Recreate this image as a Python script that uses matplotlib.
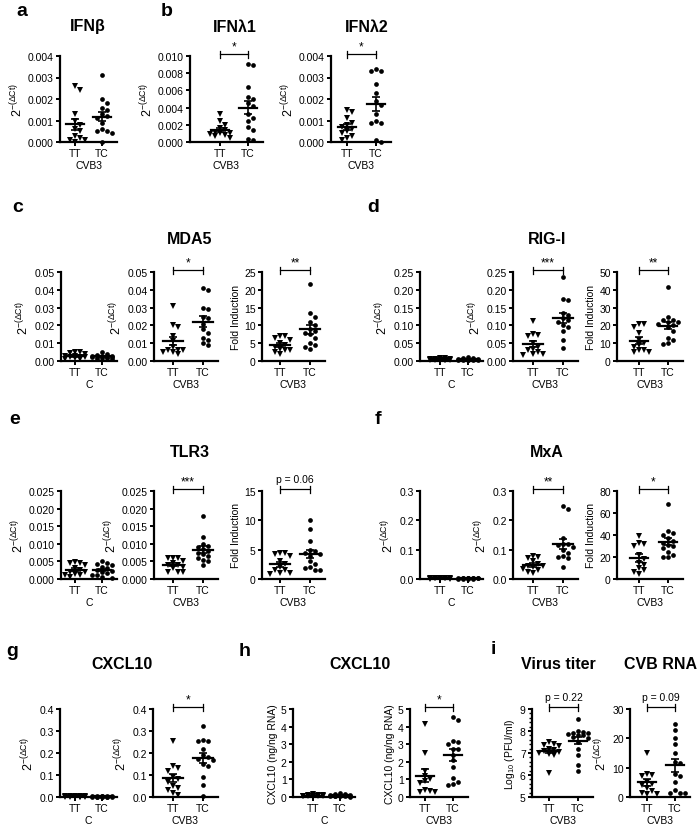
import numpy as np
import matplotlib
matplotlib.use("Agg")
import matplotlib.pyplot as plt
from matplotlib.transforms import blended_transform_factory
from matplotlib.ticker import FormatStrFormatter, MultipleLocator

plt.rcParams['font.family'] = ['Liberation Sans', 'DejaVu Sans']
plt.rcParams['mathtext.default'] = 'regular'

# ---- data ----
groups = ['TT', 'TC']

ifnb_tt = [0.0026, 0.0024, 0.0013, 0.0010, 0.0008, 0.0006, 0.0005, 0.0003, 0.0002, 0.0001, 0.0001, 0.0000]
ifnb_tc = [0.0031, 0.0020, 0.0018, 0.0016, 0.0015, 0.0013, 0.0012, 0.0011, 0.0009, 0.0006, 0.0005, 0.0005, 0.0004, 0.0000]

ifnl1_tt = [0.0032, 0.0025, 0.0020, 0.0016, 0.0014, 0.0012, 0.0011, 0.0010, 0.0009, 0.0008, 0.0007, 0.0005]
ifnl1_tc = [0.0091, 0.0089, 0.0064, 0.0052, 0.0050, 0.0045, 0.0042, 0.0033, 0.0028, 0.0024, 0.0018, 0.0014, 0.0004, 0.0002]

ifnl2_tt = [0.0015, 0.0014, 0.0011, 0.0009, 0.0008, 0.0007, 0.0006, 0.0005, 0.0004, 0.0003, 0.0002, 0.0001]
ifnl2_tc = [0.0034, 0.0033, 0.0033, 0.0027, 0.0023, 0.0019, 0.0017, 0.0013, 0.0010, 0.0009, 0.0009, 0.0001, 0.0000]

mda5_c_tt = [0.0050, 0.0048, 0.0045, 0.0040, 0.0030, 0.0030, 0.0025, 0.0020, 0.0020, 0.0015, 0.0010, 0.0010]
mda5_c_tc = [0.0052, 0.0040, 0.0035, 0.0030, 0.0030, 0.0028, 0.0025, 0.0022, 0.0020, 0.0020, 0.0018, 0.0015, 0.0012, 0.0010]
mda5_v_tt = [0.031, 0.020, 0.019, 0.014, 0.011, 0.008, 0.006, 0.006, 0.005, 0.005, 0.004, 0.006]
mda5_v_tc = [0.041, 0.040, 0.030, 0.029, 0.025, 0.024, 0.021, 0.018, 0.016, 0.013, 0.012, 0.010, 0.009]
mda5_f_tt = [7.0, 7.0, 6.5, 6.0, 5.0, 4.5, 4.0, 3.5, 3.0, 3.0, 2.5, 2.0]
mda5_f_tc = [21.5, 13.5, 12.5, 11.0, 10.0, 9.0, 8.5, 8.0, 7.5, 6.5, 5.0, 4.5, 4.0, 3.5]

rig_c_tt = [0.009, 0.008, 0.007, 0.006, 0.005, 0.005, 0.004, 0.004, 0.003, 0.003, 0.002, 0.002]
rig_c_tc = [0.010, 0.009, 0.008, 0.007, 0.006, 0.006, 0.005, 0.005, 0.004, 0.004, 0.003, 0.003, 0.002, 0.002]
rig_v_tt = [0.112, 0.075, 0.072, 0.070, 0.050, 0.040, 0.035, 0.030, 0.025, 0.020, 0.020, 0.018]
rig_v_tc = [0.237, 0.173, 0.172, 0.135, 0.130, 0.120, 0.115, 0.110, 0.100, 0.095, 0.085, 0.060, 0.037]
rig_f_tt = [21, 21, 19, 16, 12, 10, 9, 8, 6, 6, 5, 5]
rig_f_tc = [41.5, 25, 23, 23, 22, 22, 21, 20, 19, 17, 13, 12, 10, 9.5]

tlr3_c_tt = [0.0047, 0.0046, 0.0045, 0.0040, 0.0030, 0.0025, 0.0020, 0.0020, 0.0015, 0.0012, 0.0010, 0.0006]
tlr3_c_tc = [0.0050, 0.0045, 0.0042, 0.0040, 0.0035, 0.0030, 0.0026, 0.0022, 0.0020, 0.0016, 0.0012, 0.0010, 0.0006, 0.0003]
tlr3_v_tt = [0.006, 0.006, 0.006, 0.005, 0.0045, 0.004, 0.004, 0.0035, 0.003, 0.002, 0.002, 0.002]
tlr3_v_tc = [0.018, 0.012, 0.010, 0.0095, 0.009, 0.0085, 0.008, 0.0075, 0.007, 0.0065, 0.006, 0.0055, 0.005, 0.004]
tlr3_f_tt = [4.5, 4.5, 4.3, 4.0, 3.0, 2.5, 2.0, 1.5, 1.5, 1.0, 1.0, 0.8]
tlr3_f_tc = [10.0, 8.5, 6.5, 5.0, 4.8, 4.5, 4.3, 4.0, 3.0, 2.5, 2.0, 1.8, 1.6, 1.5]

mxa_c_tt = [0.005, 0.004, 0.004, 0.003, 0.003, 0.003, 0.002, 0.002, 0.002, 0.001, 0.001, 0.001]
mxa_c_tc = [0.005, 0.005, 0.004, 0.004, 0.003, 0.003, 0.003, 0.002, 0.002, 0.002, 0.001, 0.001, 0.001, 0.001]
mxa_v_tt = [0.078, 0.075, 0.070, 0.060, 0.050, 0.045, 0.045, 0.040, 0.035, 0.030, 0.025, 0.020]
mxa_v_tc = [0.248, 0.240, 0.140, 0.120, 0.120, 0.115, 0.110, 0.100, 0.090, 0.080, 0.075, 0.070, 0.040]
mxa_f_tt = [39, 33, 32, 30, 22, 18, 15, 13, 10, 8, 6, 5]
mxa_f_tc = [68, 44, 42, 40, 37, 35, 33, 31, 30, 28, 25, 22, 20, 20]

cxcl_c_tt = [0.004, 0.004, 0.003, 0.003, 0.003, 0.002, 0.002, 0.002, 0.002, 0.001, 0.001, 0.001]
cxcl_c_tc = [0.004, 0.004, 0.003, 0.003, 0.003, 0.003, 0.002, 0.002, 0.002, 0.002, 0.001, 0.001, 0.001, 0.001]
cxcl_v_tt = [0.255, 0.140, 0.130, 0.120, 0.090, 0.080, 0.070, 0.050, 0.040, 0.030, 0.020, 0.010]
cxcl_v_tc = [0.325, 0.260, 0.255, 0.255, 0.220, 0.190, 0.180, 0.175, 0.170, 0.150, 0.140, 0.090, 0.055, 0.005]

prot_c_tt = [0.15, 0.12, 0.10, 0.09, 0.08, 0.07, 0.06, 0.05, 0.05, 0.04, 0.03]
prot_c_tc = [0.22, 0.18, 0.15, 0.12, 0.10, 0.10, 0.09, 0.08, 0.07, 0.06, 0.05, 0.04, 0.03, 0.02]
prot_v_tt = [4.15, 2.5, 1.5, 1.2, 1.0, 0.9, 0.8, 0.4, 0.35, 0.3, 0.3]
prot_v_tc = [4.55, 4.4, 3.2, 3.15, 3.0, 2.75, 2.7, 2.4, 2.1, 1.7, 1.1, 0.85, 0.75, 0.7]

titer_tt = [7.5, 7.4, 7.35, 7.3, 7.2, 7.15, 7.1, 7.05, 7.0, 6.95, 6.9, 6.1]
titer_tc = [8.55, 8.0, 7.95, 7.9, 7.9, 7.85, 7.8, 7.8, 7.75, 7.7, 7.5, 7.2, 6.9, 6.45, 6.2]

rna_tt = [15, 8, 7.5, 7, 5, 4.5, 4, 3, 2, 1.5, 1, 1]
rna_tc = [25, 23, 20, 18, 15, 12, 11.5, 8, 7, 5, 2.5, 1.5, 1.5, 1.5]

W, H = 700, 829
fig = plt.figure(figsize=(7, 8.29), dpi=100)
DCT = '2$^{-(\\Delta Ct)}$'


def swarm(ax, vals, dmark=4.8, maxw=0.42):
    # simple beeswarm offsets in category units
    bb = ax.get_window_extent()
    x0, x1 = ax.get_xlim()
    y0, y1 = ax.get_ylim()
    pxx = bb.width / (x1 - x0)
    pxy = bb.height / (y1 - y0)
    placed = []
    offs = np.zeros(len(vals))
    order = np.argsort(vals)[::-1]
    step = dmark / pxx
    cands = [0.0]
    k = 1
    while k * step <= maxw:
        cands += [k * step, -k * step]
        k += 1
    for i in order:
        yv = vals[i] * pxy
        best, bestd = None, -1
        for c in cands:
            dmin = min([np.hypot((c - px) * pxx, yv - py) for px, py in placed] + [99])
            if dmin >= dmark:
                best = c
                break
            if dmin > bestd:
                bestd, best = dmin, c
        offs[i] = best
        placed.append((best, yv))
    return offs


def dot_panel(xs, ys, tt, tc, ylim, step, fmt, ylabel, xlabel, sig=None, minor=None):
    yaxis, ttx, tcx = xs
    top, bot = ys
    endx = tcx + 15
    sp = tcx - ttx
    ax = fig.add_axes([yaxis / W, 1 - bot / H, (endx - yaxis) / W, (bot - top) / H])
    ax.set_xlim(-(ttx - yaxis) / sp, 1 + (endx - tcx) / sp)
    ax.set_ylim(*ylim)
    ax.set_yticks(np.arange(ylim[0], ylim[1] + step / 2, step))
    ax.yaxis.set_major_formatter(FormatStrFormatter(fmt))
    if minor:
        ax.yaxis.set_minor_locator(MultipleLocator(minor))
    ax.set_xticks([0, 1])
    ax.set_xticklabels(groups)
    for s in ['top', 'right']:
        ax.spines[s].set_visible(False)
    for s in ['left', 'bottom']:
        ax.spines[s].set_linewidth(1.6)
    ax.tick_params(width=1.4, length=3, labelsize=7.5, pad=1.5)
    ax.tick_params(which='minor', width=1.0, length=2)
    ax.set_ylabel(ylabel, fontsize=9 if ylabel == DCT else 7.5, labelpad=2)
    ax.set_xlabel(xlabel, fontsize=7.5, labelpad=1)

    for i, (vals, mk, ms) in enumerate([(tt, 'v', 3.8), (tc, 'o', 3.4)]):
        vals = np.asarray(vals, float)
        offs = swarm(ax, vals)
        ax.plot(i + offs, vals, mk, color='black', ms=ms, mew=0, clip_on=False, zorder=3)
        m = vals.mean()
        se = vals.std(ddof=1) / np.sqrt(len(vals))
        ax.plot([i - 0.32, i + 0.32], [m, m], color='black', lw=1.6, zorder=4)
        ax.errorbar(i, m, yerr=se, color='black', lw=1.2, capsize=3, capthick=1.2, zorder=4)

    if sig:
        tr = blended_transform_factory(ax.transData, ax.transAxes)
        yb = 1.02
        ax.plot([0, 1], [yb, yb], color='black', lw=0.9, transform=tr, clip_on=False)
        for xb in (0, 1):
            ax.plot([xb, xb], [yb - 0.04, yb + 0.04], color='black', lw=0.9, transform=tr, clip_on=False)
        if sig.startswith('*'):
            ax.text(0.5, yb + 0.02, sig, transform=tr, ha='center', va='bottom', fontsize=8.5)
        else:
            ax.text(0.5, yb + 0.06, sig, transform=tr, ha='center', va='bottom', fontsize=7.5)
    return ax


def title(x, y, s):
    fig.text(x / W, 1 - y / H, s, ha='center', va='center', fontsize=11.5, fontweight='bold')


def letter(x, y, s):
    fig.text(x / W, 1 - y / H, s, ha='center', va='center', fontsize=14, fontweight='bold')


# ---- row a / b ----
letter(22, 12, 'a')
title(88, 27, 'IFNβ')
dot_panel((60, 75, 102), (57, 143), ifnb_tt, ifnb_tc, (0, 0.004), 0.001, '%.3f', DCT, 'CVB3')
letter(167, 12, 'b')
title(235, 27, 'IFNλ1')
dot_panel((190, 220, 248), (57, 143), ifnl1_tt, ifnl1_tc, (0, 0.010), 0.002, '%.3f', DCT, 'CVB3', '*')
title(367, 27, 'IFNλ2')
dot_panel((331, 347, 376), (57, 143), ifnl2_tt, ifnl2_tc, (0, 0.004), 0.001, '%.3f', DCT, 'CVB3', '*')

# ---- rows c-f ----
left_x = [(61, 75, 102), (154, 173, 203), (262, 280, 310)]
right_x = [(420, 440, 468), (513, 533, 563), (617, 639, 668)]

letter(18, 207, 'c')
title(190, 240, 'MDA5')
dot_panel(left_x[0], (273, 362), mda5_c_tt, mda5_c_tc, (0, 0.05), 0.01, '%.2f', DCT, 'C')
dot_panel(left_x[1], (273, 362), mda5_v_tt, mda5_v_tc, (0, 0.05), 0.01, '%.2f', DCT, 'CVB3', '*')
dot_panel(left_x[2], (273, 362), mda5_f_tt, mda5_f_tc, (0, 25), 5, '%d', 'Fold Induction', 'CVB3', '**')

letter(373, 207, 'd')
title(547, 240, 'RIG-I')
dot_panel(right_x[0], (273, 362), rig_c_tt, rig_c_tc, (0, 0.25), 0.05, '%.2f', DCT, 'C')
dot_panel(right_x[1], (273, 362), rig_v_tt, rig_v_tc, (0, 0.25), 0.05, '%.2f', DCT, 'CVB3', '***')
dot_panel(right_x[2], (273, 362), rig_f_tt, rig_f_tc, (0, 50), 10, '%d', 'Fold Induction', 'CVB3', '**')

letter(15, 420, 'e')
title(190, 453, 'TLR3')
dot_panel(left_x[0], (492, 580), tlr3_c_tt, tlr3_c_tc, (0, 0.025), 0.005, '%.3f', DCT, 'C')
dot_panel(left_x[1], (492, 580), tlr3_v_tt, tlr3_v_tc, (0, 0.025), 0.005, '%.3f', DCT, 'CVB3', '***')
dot_panel(left_x[2], (492, 580), tlr3_f_tt, tlr3_f_tc, (0, 15), 5, '%d', 'Fold Induction', 'CVB3', 'p = 0.06')

letter(378, 420, 'f')
title(547, 453, 'MxA')
dot_panel(right_x[0], (492, 580), mxa_c_tt, mxa_c_tc, (0, 0.3), 0.1, '%.1f', DCT, 'C')
dot_panel(right_x[1], (492, 580), mxa_v_tt, mxa_v_tc, (0, 0.3), 0.1, '%.1f', DCT, 'CVB3', '**')
dot_panel(right_x[2], (492, 580), mxa_f_tt, mxa_f_tc, (0, 80), 20, '%d', 'Fold Induction', 'CVB3', '*')

# ---- row g / h / i ----
letter(12, 652, 'g')
title(122, 665, 'CXCL10')
dot_panel((60, 75, 102), (710, 798), cxcl_c_tt, cxcl_c_tc, (0, 0.4), 0.1, '%.1f', DCT, 'C')
dot_panel((153, 173, 203), (710, 798), cxcl_v_tt, cxcl_v_tc, (0, 0.4), 0.1, '%.1f', DCT, 'CVB3', '*')

letter(245, 652, 'h')
title(360, 665, 'CXCL10')
dot_panel((293, 313, 340), (710, 798), prot_c_tt, prot_c_tc, (0, 5), 1, '%d', 'CXCL10 (ng/ng RNA)', 'C')
dot_panel((410, 425, 453), (710, 798), prot_v_tt, prot_v_tc, (0, 5), 1, '%d', 'CXCL10 (ng/ng RNA)', 'CVB3', '*')

letter(493, 650, 'i')
title(558, 665, 'Virus titer')
dot_panel((532, 549, 578), (710, 798), titer_tt, titer_tc, (5, 9), 1, '%d', 'Log$_{10}$ (PFU/ml)', 'CVB3', 'p = 0.22', minor=0.2)
title(660, 665, 'CVB RNA')
dot_panel((630, 647, 675), (710, 798), rna_tt, rna_tc, (0, 30), 10, '%d', DCT, 'CVB3', 'p = 0.09')

fig.savefig('out.png', dpi=100)
